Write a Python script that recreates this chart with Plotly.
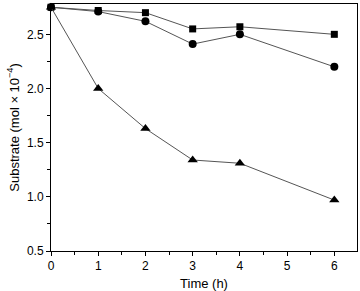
import plotly.graph_objects as go

time_h = [0, 1, 2, 3, 4, 6]
series_square = [2.75, 2.72, 2.70, 2.55, 2.57, 2.50]
series_circle = [2.75, 2.71, 2.62, 2.41, 2.50, 2.20]
series_triangle = [2.75, 2.00, 1.63, 1.34, 1.31, 0.97]

fig = go.Figure()
for ys, sym, sz in [(series_square, "square", 7), (series_circle, "circle", 8), (series_triangle, "triangle-up", 9)]:
    fig.add_trace(go.Scatter(
        x=time_h, y=ys, mode="lines+markers",
        line=dict(color="#555555", width=1),
        marker=dict(symbol=sym, color="black", size=sz),
        showlegend=False, cliponaxis=False,
    ))

fig.update_layout(
    width=360, height=291,
    margin=dict(l=51, r=3, t=4, b=40),
    plot_bgcolor="white", paper_bgcolor="white",
    font=dict(family="Liberation Sans, Arial, sans-serif", size=12, color="black"),
)
fig.update_xaxes(
    automargin=False,
    range=[0, 6.48], tickmode="linear", tick0=0, dtick=1,
    ticks="outside", ticklen=4, tickwidth=1, tickcolor="black",
    minor=dict(ticks="outside", ticklen=3, dtick=0.5, tickcolor="black"),
    showline=True, linecolor="black", linewidth=1, mirror=True,
    showgrid=False, zeroline=False,
    title=dict(text="Time (h)", standoff=6, font=dict(size=13)),
)
fig.update_yaxes(
    automargin=False,
    range=[0.5, 2.78], tickmode="linear", tick0=0.5, dtick=0.5,
    tickformat=".1f",
    ticks="outside", ticklen=4, tickwidth=1, tickcolor="black",
    minor=dict(ticks="outside", ticklen=3, dtick=0.25, tickcolor="black"),
    showline=True, linecolor="black", linewidth=1, mirror=True,
    showgrid=False, zeroline=False,
    title=dict(text="Substrate (mol × 10<sup>−4</sup>)", standoff=4, font=dict(size=13)),
)

fig.write_html(
    "out.html",
    config={"displayModeBar": False, "staticPlot": True},
    post_script="document.body.style.margin='0';document.body.style.overflow='hidden';",
)
